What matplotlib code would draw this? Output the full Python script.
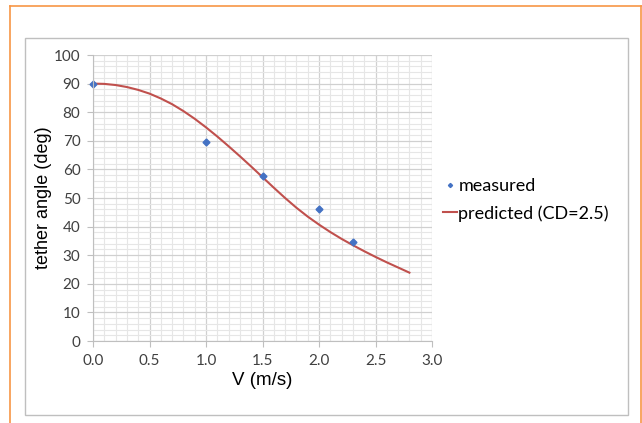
import matplotlib

matplotlib.use("Agg")
import matplotlib.pyplot as plt
from matplotlib.lines import Line2D
from matplotlib.patches import Rectangle
from matplotlib.ticker import MultipleLocator

# measured tether angles
v_meas = [0.0, 1.0, 1.5, 2.0, 2.3]
angle_meas = [90.0, 69.7, 57.7, 46.2, 34.6]

# predicted curve (CD=2.5)
v_pred = [0.0, 0.1, 0.2, 0.3, 0.4, 0.5, 0.6, 0.7, 0.8, 0.9, 1.0, 1.1, 1.2, 1.3,
          1.4, 1.5, 1.6, 1.7, 1.8, 1.9, 2.0, 2.1, 2.2, 2.3, 2.4, 2.5, 2.6, 2.7, 2.8]
angle_pred = [90.0, 89.9, 89.5, 88.8, 87.8, 86.5, 84.8, 82.8, 80.4, 77.7, 74.7,
              71.5, 68.1, 64.6, 61.0, 57.3, 53.6, 50.0, 46.6, 43.5, 40.7, 38.1,
              35.7, 33.5, 31.4, 29.4, 27.5, 25.7, 23.9]

W, H = 642, 423
fig = plt.figure(figsize=(W / 100, H / 100), dpi=100)

# slide frame (orange) and chart box (grey)
orange = "#F79646"
fig.add_artist(Line2D([10 / W, 642 / W], [1 - 6 / H, 1 - 6 / H], color=orange, lw=1.2))
fig.add_artist(Line2D([10 / W, 10 / W], [0, 1 - 6 / H], color=orange, lw=1.2))
fig.add_artist(Line2D([641 / W, 641 / W], [0, 1 - 6 / H], color=orange, lw=1.2))
fig.add_artist(Rectangle((25 / W, 1 - 415 / H), 603 / W, 377 / H, fill=False,
                         edgecolor="#BFBFBF", lw=1.0))

ax = fig.add_axes([93 / W, 1 - 341 / H, 339 / W, 286 / H])
ax.set_xlim(0, 3.0)
ax.set_ylim(0, 100)
ax.xaxis.set_major_locator(MultipleLocator(0.5))
ax.xaxis.set_minor_locator(MultipleLocator(0.1))
ax.yaxis.set_major_locator(MultipleLocator(10))
ax.yaxis.set_minor_locator(MultipleLocator(2))
ax.grid(which="major", color="#D0D0D0", lw=0.9)
ax.grid(which="minor", color="#E6E6E6", lw=0.8)
ax.set_axisbelow(True)
for side in ("top", "right"):
    ax.spines[side].set_visible(False)
for side in ("left", "bottom"):
    ax.spines[side].set_color("#BFBFBF")
ax.tick_params(which="major", length=4, color="#BFBFBF", labelsize=11,
               labelcolor="#404040", pad=5)
ax.tick_params(which="minor", length=0)
ax.set_xticklabels([f"{v:.1f}" for v in ax.get_xticks()], family="Lato")
ax.set_yticklabels([f"{v:.0f}" for v in ax.get_yticks()], family="Lato")

ax.plot(v_pred, angle_pred, color="#C0504D", lw=1.5, label="predicted (CD=2.5)",
        clip_on=False)
ax.plot(v_meas, angle_meas, "D", color="#4472C4", ms=3.5, ls="none", label="measured",
        clip_on=False)

ax.set_xlabel("V (m/s)", family="Liberation Sans", fontsize=13.5, labelpad=3)
ax.set_ylabel("tether angle (deg)", family="Liberation Sans", fontsize=13, labelpad=1)

handles, labels = ax.get_legend_handles_labels()
fig.legend(handles[::-1], labels[::-1], loc="upper left",
           bbox_to_anchor=(443 / W, 1 - 178 / H), frameon=False,
           prop={"family": "Lato", "size": 13}, handlelength=0.75, handletextpad=0.1,
           labelspacing=0.62, markerscale=0.6, borderpad=0, borderaxespad=0)

fig.savefig("out.png", dpi=100)
